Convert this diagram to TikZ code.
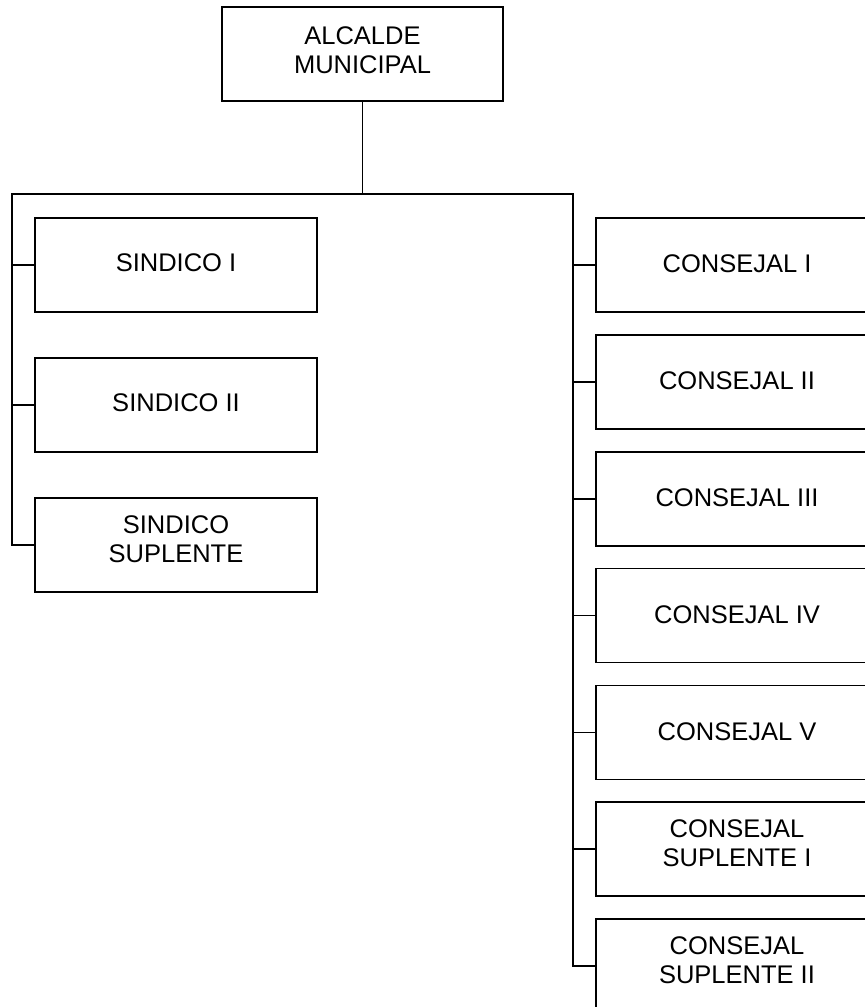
\documentclass[tikz,border=0pt]{standalone}
\usepackage{fontspec}
\setmainfont{Liberation Sans}
\begin{document}
\begin{tikzpicture}[x=1pt,y=1pt,
  box/.style={draw=black,line width=1.5pt,minimum width=282pt,minimum height=94pt,inner sep=0pt,outer sep=0pt,fill=white},
  lbl/.style={align=center,inner sep=0pt,font=\fontsize{25.5}{28.5}\selectfont},
  conn/.style={line width=1.5pt,line cap=rect}]
\useasboundingbox (0,0) rectangle (865,-1007);
\clip (0,0) rectangle (865,-1007);
\fill[white] (0,0) rectangle (865,-1007);
% boxes
\node[box,minimum width=281pt] (alc) at (362.5,-54) {};
\node[box] (s1) at (176,-265) {};
\node[box] (s2) at (176,-405) {};
\node[box] (s3) at (176,-545) {};
\node[box] (c1) at (737,-265) {};
\node[box] (c2) at (737,-382) {};
\node[box] (c3) at (737,-499) {};
\node[box] (c4) at (737,-615.5) {};
\node[box] (c5) at (737,-732.5) {};
\node[box] (c6) at (737,-849) {};
\node[box] (c7) at (737,-966) {};
% labels
\node[lbl] (talc) at ([yshift=4pt]alc.center) {ALCALDE\\MUNICIPAL};
\node[lbl] (ts1) at ([yshift=2pt]s1.center) {SINDICO I};
\node[lbl] (ts2) at ([yshift=2pt]s2.center) {SINDICO II};
\node[lbl] (ts3) at ([yshift=6pt]s3.center) {SINDICO\\SUPLENTE};
\node[lbl] (tc1) at ([yshift=1pt]c1.center) {CONSEJAL I};
\node[lbl] (tc2) at ([yshift=1pt]c2.center) {CONSEJAL II};
\node[lbl] (tc3) at ([yshift=1pt]c3.center) {CONSEJAL III};
\node[lbl] (tc4) at ([yshift=1pt]c4.center) {CONSEJAL IV};
\node[lbl] (tc5) at ([yshift=1pt]c5.center) {CONSEJAL V};
\node[lbl] (tc6) at ([yshift=6pt]c6.center) {CONSEJAL\\SUPLENTE I};
\node[lbl] (tc7) at ([yshift=6pt]c7.center) {CONSEJAL\\SUPLENTE II};
% connectors
\coordinate (L) at (12,-194);
\coordinate (R) at (573,-194);
\draw[conn] (alc.south) -- (alc.south |- L);
\draw[conn] (L) -- (R);
\draw[conn] (L) -- (L |- s3.west) -- (s3.west);
\draw[conn] (L |- s1.west) -- (s1.west);
\draw[conn] (L |- s2.west) -- (s2.west);
\draw[conn] (R) -- (R |- c7.west) -- (c7.west);
\draw[conn] (R |- c1.west) -- (c1.west);
\draw[conn] (R |- c2.west) -- (c2.west);
\draw[conn] (R |- c3.west) -- (c3.west);
\draw[conn] (R |- c4.west) -- (c4.west);
\draw[conn] (R |- c5.west) -- (c5.west);
\draw[conn] (R |- c6.west) -- (c6.west);
\end{tikzpicture}
\end{document}
